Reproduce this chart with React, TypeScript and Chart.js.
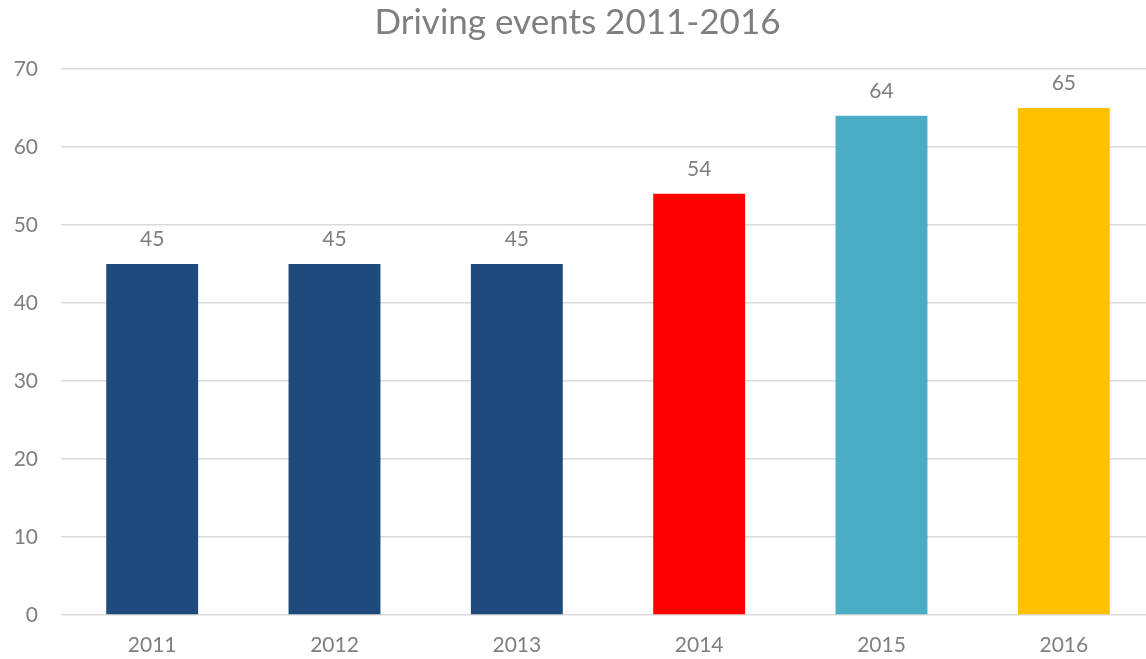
import React, { useEffect, useRef } from "react";
import { Chart, registerables } from "chart.js";

Chart.register(...registerables);

const categories = ["2011", "2012", "2013", "2014", "2015", "2016"];
const values = [45, 45, 45, 54, 64, 65];
const barColors = ["#1F4B7C", "#1F4B7C", "#1F4B7C", "#FF0000", "#4BACC6", "#FFC000"];
const yTicks = [0, 10, 20, 30, 40, 50, 60, 70];
const titleText = "Driving events 2011-2016";

const FONT = "Lato, 'Open Sans', sans-serif";
const TEXT = "#7F7F7F";

const valueLabels = {
  id: "valueLabels",
  afterDatasetsDraw(chart: any) {
    const ctx = chart.ctx;
    const meta = chart.getDatasetMeta(0);
    ctx.save();
    ctx.font = `21px ${FONT}`;
    ctx.fillStyle = TEXT;
    ctx.textAlign = "center";
    ctx.textBaseline = "middle";
    meta.data.forEach((el: any, i: number) => {
      ctx.fillText(String(values[i]), el.x, el.y - 25);
    });
    ctx.restore();
  },
};

export default function App() {
  const ref = useRef<HTMLCanvasElement>(null);
  useEffect(() => {
    if (!ref.current) return;
    const chart = new Chart(ref.current, {
      type: "bar",
      data: {
        labels: categories,
        datasets: [
          {
            data: values,
            backgroundColor: barColors,
            borderWidth: 0,
            barPercentage: 1,
            categoryPercentage: 0.504,
          },
        ],
      },
      options: {
        animation: false,
        responsive: false,
        devicePixelRatio: 1,
        layout: { padding: { left: 0, right: 5, top: 0, bottom: 0 } },
        plugins: {
          legend: { display: false },
          tooltip: { enabled: false },
          title: {
            display: true,
            text: titleText,
            color: TEXT,
            font: { family: FONT, size: 35, weight: "normal", lineHeight: 1.2 },
            padding: { top: 2, bottom: 25 },
          },
        },
        scales: {
          x: {
            grid: { display: false },
            border: { display: false },
            ticks: { color: TEXT, font: { family: FONT, size: 21 }, padding: 10 },
            afterFit: (s: any) => {
              s.height = 44;
            },
          },
          y: {
            min: 0,
            max: 70,
            afterBuildTicks: (s: any) => {
              s.ticks = yTicks.map((v) => ({ value: v }));
            },
            grid: { color: "#D9D9D9", lineWidth: 1.5, drawTicks: false },
            border: { display: false },
            ticks: { color: TEXT, font: { family: FONT, size: 21 }, padding: 23 },
            afterFit: (s: any) => {
              s.width = 61;
            },
          },
        },
      },
      plugins: [valueLabels],
    });
    return () => chart.destroy();
  }, []);
  return (
    <div style={{ position: "fixed", left: 0, top: 0, width: 1160, height: 659, background: "#fff" }}>
      <canvas ref={ref} width={1160} height={659} style={{ display: "block" }} />
    </div>
  );
}
